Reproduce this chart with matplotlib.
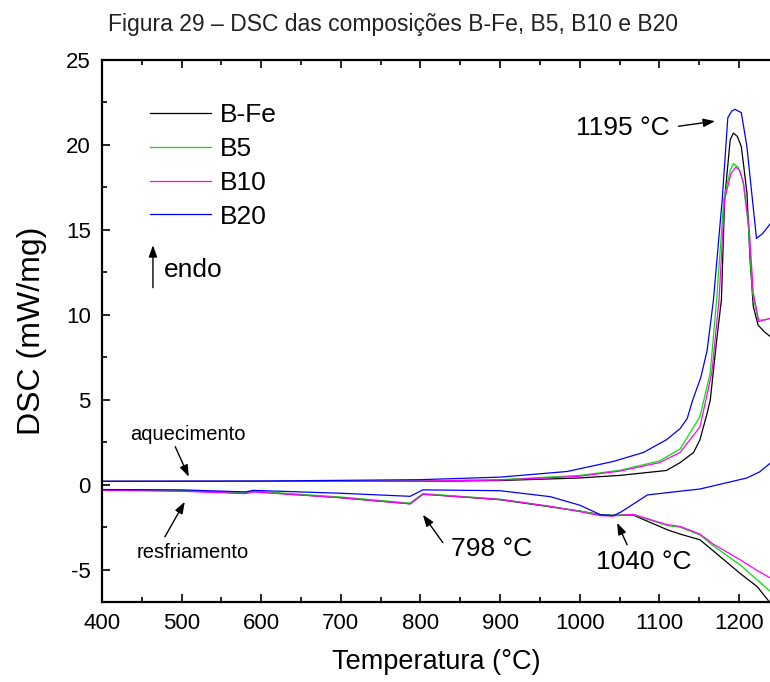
import matplotlib
matplotlib.use("Agg")
import matplotlib.pyplot as plt
from matplotlib.ticker import MultipleLocator

plt.rcParams["font.family"] = ["Liberation Sans", "DejaVu Sans"]
plt.rcParams["axes.unicode_minus"] = False

# heating runs (upper branch)
bfe_heat_t = [400, 600, 800, 900, 1000, 1050, 1109, 1126, 1143, 1151, 1160, 1164, 1172, 1178,
              1182, 1189, 1193, 1198, 1203, 1210, 1214, 1218, 1224, 1232, 1240]
bfe_heat = [0.2, 0.2, 0.2, 0.25, 0.4, 0.55, 0.84, 1.3, 1.9, 2.65, 4.2, 5.0, 8.5, 10.9,
            16.8, 20.3, 20.7, 20.5, 19.9, 17.2, 13.2, 10.5, 9.4, 9.0, 8.7]

b5_heat_t = [400, 600, 800, 900, 1000, 1050, 1100, 1126, 1151, 1164, 1172, 1181, 1189, 1193,
             1199, 1205, 1212, 1217, 1224, 1232, 1240]
b5_heat = [0.2, 0.2, 0.22, 0.3, 0.55, 0.85, 1.4, 2.1, 4.0, 6.6, 10.9, 16.8, 18.5, 18.9,
           18.7, 17.9, 15.2, 11.3, 9.7, 9.7, 9.8]

b10_heat_t = [400, 600, 800, 900, 1000, 1050, 1100, 1126, 1151, 1166, 1175, 1182, 1190, 1196,
              1201, 1206, 1213, 1218, 1225, 1232, 1240]
b10_heat = [0.2, 0.2, 0.22, 0.28, 0.5, 0.8, 1.3, 1.9, 3.4, 6.6, 10.9, 16.8, 18.3, 18.7,
            18.5, 17.7, 15.0, 11.3, 9.6, 9.7, 9.8]

b20_heat_t = [400, 600, 800, 900, 984, 1042, 1080, 1109, 1126, 1135, 1142, 1152, 1160, 1168,
              1179, 1186, 1191, 1195, 1199, 1203, 1210, 1216, 1222, 1230, 1240]
b20_heat = [0.2, 0.22, 0.3, 0.45, 0.78, 1.37, 1.9, 2.65, 3.3, 3.9, 5.0, 6.3, 7.9, 10.9,
            16.8, 21.6, 22.0, 22.1, 22.0, 21.9, 19.9, 17.2, 14.5, 14.8, 15.4]

# cooling runs (lower branch)
cool_t = [400, 500, 580, 590, 700, 787, 803, 900, 963, 1000, 1026, 1040, 1067, 1110, 1126,
          1151, 1168, 1201, 1223, 1240]
bfe_cool = [-0.3, -0.35, -0.5, -0.4, -0.76, -1.12, -0.55, -0.88, -1.3, -1.55, -1.76, -1.8,
            -1.78, -2.65, -2.9, -3.24, -3.9, -5.2, -6.0, -7.0]
b5_cool = [-0.3, -0.35, -0.48, -0.38, -0.72, -1.08, -0.52, -0.85, -1.28, -1.55, -1.76, -1.8,
           -1.76, -2.4, -2.5, -2.95, -3.6, -4.7, -5.6, -6.3]
b10_cool = [-0.33, -0.38, -0.52, -0.42, -0.76, -1.12, -0.56, -0.86, -1.27, -1.58, -1.82, -1.84,
            -1.74, -2.35, -2.45, -2.9, -3.5, -4.4, -5.05, -5.5]

b20_cool_t = [400, 500, 580, 590, 700, 787, 803, 900, 963, 1000, 1026, 1042, 1052, 1085, 1126,
              1151, 1210, 1226, 1240]
b20_cool = [-0.28, -0.3, -0.42, -0.33, -0.5, -0.68, -0.3, -0.35, -0.7, -1.2, -1.76, -1.82,
            -1.6, -0.6, -0.38, -0.25, 0.4, 0.76, 1.3]

samples = ["B-Fe", "B5", "B10", "B20"]
colors = ["#000000", "#00e600", "#ff00ff", "#0000ff"]
heat_t = [bfe_heat_t, b5_heat_t, b10_heat_t, b20_heat_t]
heat = [bfe_heat, b5_heat, b10_heat, b20_heat]
cool_ts = [cool_t, cool_t, cool_t, b20_cool_t]
cool = [bfe_cool, b5_cool, b10_cool, b20_cool]

fig = plt.figure(figsize=(7.7, 6.82), dpi=100)
ax = fig.add_axes([102 / 770, 80 / 682, 668 / 770, 542 / 682])

for name, c, ht, h, ct, cv in zip(samples, colors, heat_t, heat, cool_ts, cool):
    ax.plot(ht, h, color=c, lw=0.9, label=name)
    ax.plot(ct, cv, color=c, lw=0.9)

ax.set_xlim(400, 1239)
ax.set_ylim(-6.9, 25)
ax.xaxis.set_major_locator(MultipleLocator(100))
ax.xaxis.set_minor_locator(MultipleLocator(50))
ax.yaxis.set_major_locator(MultipleLocator(5))
ax.yaxis.set_minor_locator(MultipleLocator(2.5))
ax.tick_params(which="both", direction="in", top=True, right=False, width=1.2, labelsize=16)
ax.tick_params(which="major", length=6, pad=8)
ax.tick_params(which="minor", length=3.5)
ax.spines["right"].set_visible(False)
for s in ["left", "top", "bottom"]:
    ax.spines[s].set_linewidth(1.6)

ax.set_xlabel("Temperatura (°C)", fontsize=19.5, labelpad=11)
ax.set_ylabel("DSC (mW/mg)", fontsize=23, labelpad=14)

ax.legend(loc="upper left", bbox_to_anchor=(0.072, 0.92), frameon=False, fontsize=19,
          handlelength=2.3, handletextpad=0.35, labelspacing=0.37, borderpad=0, borderaxespad=0)

arrow = dict(arrowstyle="-|>,head_length=0.7,head_width=0.25", color="k", lw=1,
             shrinkA=0, shrinkB=0)
ax.annotate("", xy=(464, 14.1), xytext=(464, 11.6), arrowprops=arrow)
ax.text(478, 12.65, "endo", fontsize=19, va="center", ha="left")

ax.annotate("", xy=(1170, 21.4), xytext=(1124, 21.1), arrowprops=arrow)
ax.text(1054, 21.0, "1195 °C", fontsize=19, va="center", ha="center")

ax.annotate("", xy=(509, 0.47), xytext=(492, 2.24), arrowprops=arrow)
ax.text(508, 2.94, "aquecimento", fontsize=14.5, va="center", ha="center")

ax.annotate("", xy=(504, -1.0), xytext=(479, -3.06), arrowprops=arrow)
ax.text(514, -4.0, "resfriamento", fontsize=14.5, va="center", ha="center")

ax.annotate("", xy=(803, -1.76), xytext=(828, -3.4), arrowprops=arrow)
ax.text(889, -3.76, "798 °C", fontsize=19, va="center", ha="center")

ax.annotate("", xy=(1047, -2.24), xytext=(1059.5, -3.53), arrowprops=arrow)
ax.text(1080, -4.53, "1040 °C", fontsize=19, va="center", ha="center")

fig.text(0.51, 1 - 25 / 682, "Figura 29 – DSC das composições B-Fe, B5, B10 e B20",
         fontsize=16.5, ha="center", va="center", color="#222222")

fig.savefig("out.png", dpi=100)
